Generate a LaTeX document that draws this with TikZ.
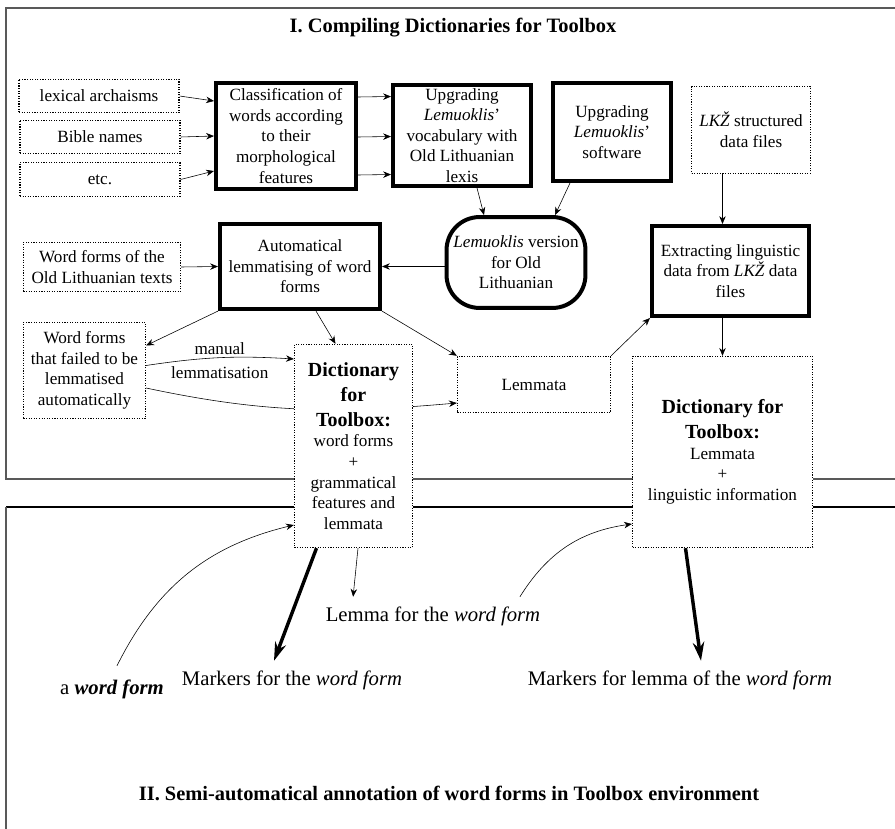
\documentclass[tikz,border=0pt]{standalone}
\usepackage{fontspec}
\setmainfont{Liberation Serif}
\usepackage{tikz}
\usetikzlibrary{calc}
\usetikzlibrary{arrows.meta}
\usetikzlibrary{backgrounds}

\newcommand{\bigfont}{\fontsize{14}{17.5}\selectfont\bfseries}

\begin{document}
\begin{tikzpicture}[x=0.7pt,y=-0.7pt,
	>={Stealth[length=5.5pt,width=4.5pt]},
	every node/.style={font=\fontsize{12}{14.4}\selectfont,align=center,inner sep=1pt},
	dotbox/.style={draw,densely dotted,line width=0.8pt,fill=white},
	thickbox/.style={draw,line width=2.8pt,fill=white},
	bigarrow/.style={line width=2.4pt,-{Stealth[length=13pt,width=8pt]}},
	free/.style={font=\fontsize{14.5}{17}\selectfont},
	title/.style={font=\fontsize{14.3}{17}\selectfont\bfseries}]
			\useasboundingbox (0,0) rectangle (895,829);
			
			\draw[gray!70!black,line width=1.5pt] (895,8) -- (6,8) -- (6,479) -- (895,479);
			\draw[line width=1pt] (895,507) -- (6,507);
			\draw[gray!70!black,line width=1.5pt] (6,507) -- (6,829);
			
			\node[title] (t1) at (453,28) {I. Compiling Dictionaries for Toolbox};
			\node[title] (t2) at (449,793) {II. Semi-automatical annotation of word forms in Toolbox environment};
			
			\node[dotbox,minimum width=112pt,minimum height=23.6pt] (lex) at (99,96) {lexical archaisms};
			\node[dotbox,minimum width=112pt,minimum height=23.6pt] (bib) at (100,137) {Bible names};
			\node[dotbox,minimum width=112pt,minimum height=23.6pt] (etc) at (100,179.5) {etc.};
			
			\node[thickbox,minimum width=98pt,minimum height=74.2pt] (cls) at (286,136) {Classification of\\words according\\to their\\morphological\\features};
			\node[thickbox,minimum width=96.6pt,minimum height=70.6pt] (voc) at (462,135.5) {Upgrading\\\emph{Lemuoklis}’\\vocabulary with\\Old Lithuanian\\lexis};
			\node[thickbox,minimum width=82.6pt,minimum height=68.6pt] (sw) at (612,132) {Upgrading\\\emph{Lemuoklis}’\\software};
			\node[dotbox,minimum width=83.2pt,minimum height=60.8pt] (lkz) at (751,130) {\emph{LKŽ} structured\\data files};
			
			\node[thickbox,rounded corners=23pt,minimum width=97.2pt,minimum height=63.6pt] (lemv) at (516,262.5) {\emph{Lemuoklis} version\\for Old\\Lithuanian};
			\node[thickbox,minimum width=109.9pt,minimum height=63pt] (ext) at (730.5,271) {Extracting linguistic\\data from \emph{LKŽ} data\\files};
			\node[thickbox,minimum width=112pt,minimum height=59.6pt] (aut) at (300,266.5) {Automatical\\lemmatising of word\\forms};
			\node[dotbox,minimum width=110pt,minimum height=34.4pt] (old) at (102,267) {Word forms of the\\Old Lithuanian texts};
			\node[dotbox,minimum width=85.4pt,minimum height=67.4pt] (fail) at (84.5,370.5) {Word forms\\that failed to be\\lemmatised\\automatically};
			
			\node[dotbox,minimum width=82.7pt,minimum height=142.2pt] (d1) at (353.5,446) {{\bigfont Dictionary}\\[3pt]{\bigfont for}\\[3pt]{\bigfont Toolbox:}\\word forms\\+\\grammatical\\features and\\lemmata};
			\node[dotbox,minimum width=107.2pt,minimum height=39.4pt] (lem) at (534,384.5) {Lemmata};
			\node[dotbox,minimum width=126pt,minimum height=133.8pt] (d2) at (722.5,452) {{\bigfont Dictionary for}\\[3pt]{\bigfont Toolbox:}\\Lemmata\\+\\linguistic information};
			
			\node[free] (awf) at (112,689) {a \textbf{\emph{word form}}};
			\node[free] (mk1) at (292,680) {Markers for the \emph{word form}};
			\node[free] (lfw) at (433,616) {Lemma for the \emph{word form}};
			\node[free] (mk2) at (680,680) {Markers for lemma of the \emph{word form}};
			
			\draw[->] (lex.east) -- ($(cls.west)+(0,-35)$);
			\draw[->] (bib.east) -- (cls.west);
			\draw[->] (etc.east) -- ($(cls.west)+(0,35)$);
			\foreach \d in {-39,1,39}
				\draw[->] ($(cls.east)+(0,\d)$) -- ($(voc.west)+(0,\d)$);
			
			\draw[->] ($(voc.south)+(15,0)$) -- ($(lemv.north)+(-32,0)$);
			\draw[->] ($(sw.south)+(-42,0)$) -- ($(lemv.north)+(39,0)$);
			\draw[->] (lkz.south -| d2.north) -- (ext.north -| d2.north);
			\draw[->] (lemv.west |- aut.east) -- (aut.east);
			\draw[->] (old.east) -- (aut.west);
			
			\draw[->] (aut.south west) -- ($(fail.east)+(0,-25)$);
			\draw[->] ($(aut.south)+(16,0)$) -- ($(d1.north)+(-18,0)$);
			\draw[->] (aut.south east) -- (lem.north west);
			\draw[->] ($(fail.east)+(0,-5)$) to[bend left=6] node[above=1pt]{manual} node[below=5pt]{lemmatisation} ($(d1.west)+(0,-87)$);
			\begin{scope}[on background layer]
				\draw[->] ($(fail.east)+(0,17.5)$) to[out=-12,in=185] ($(lem.west)+(0,18.5)$);
			\end{scope}
			\draw[->] (lem.north east) -- (ext.south west);
			\draw[->] (ext.south -| d2.north) -- (d2.north);
			
			\draw[->] ($(awf.north)+(5,-12)$) to[bend left=25] ($(d1.west)+(0,79)$);
			\draw[->] ($(lfw.north east)+(-22,-8)$) to[bend left=25] ($(d2.west)+(0,72)$);
			\draw[bigarrow] ($(d1.south)+(-37,0)$) -- ($(mk1.north)+(-18,-8)$);
			\draw[->] ($(d1.south)+(4.5,0)$) -- ($(lfw.north west)+(29,-8)$);
			\draw[bigarrow] ($(d2.south)+(-37,0)$) -- ($(mk2.north)+(21,-8)$);
		\end{tikzpicture}
\end{document}
